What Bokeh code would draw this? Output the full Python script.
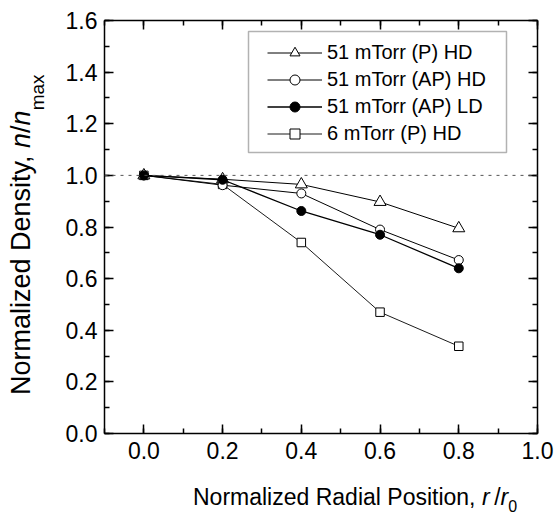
from bokeh.plotting import figure
from bokeh.layouts import row, column
from bokeh.models import (LinearAxis, SingleIntervalTicker, PrintfTickFormatter,
                          CustomJSTickFormatter, Legend, LegendItem, Span,
                          BoxAnnotation, Range1d, Div)
from bokeh.embed import file_html
from bokeh.resources import INLINE

# Radial positions r/r0 and normalized densities n/n_max
r_pos = [0.0, 0.2, 0.4, 0.6, 0.8]
p51_hd = [1.0, 0.985, 0.965, 0.897, 0.795]
ap51_hd = [1.0, 0.962, 0.930, 0.790, 0.672]
ap51_ld = [1.0, 0.983, 0.862, 0.770, 0.640]
p6_hd = [1.0, 0.965, 0.740, 0.470, 0.338]

series_labels = ["51 mTorr (P) HD", "51 mTorr (AP) HD",
                 "51 mTorr (AP) LD", "6 mTorr (P) HD"]

FONT = "Liberation Sans"
W, H = 555, 515
YLAB_W = 50          # strip holding the rotated y title
XLAB_H = 40          # strip holding the x title
L, R, T, B = 104, 537, 20, 433   # frame edges on the page
X0, X1, Y0, Y1 = -0.1, 1.0, 0.0, 1.6

PW, PH = W - YLAB_W, H - XLAB_H


def px_x(px):
    return X0 + (px - L) * (X1 - X0) / (R - L)


def px_y(py):
    return Y0 + (B - py) * (Y1 - Y0) / (B - T)


p = figure(width=PW, height=PH, x_range=Range1d(X0, X1), y_range=Range1d(Y0, Y1),
           output_backend="svg", toolbar_location=None,
           x_axis_type=None, y_axis_type=None,
           min_border_left=L - YLAB_W, min_border_right=W - R,
           min_border_top=T, min_border_bottom=PH - B, margin=0)
p.outline_line_color = None
p.background_fill_color = "white"
p.border_fill_color = "white"


def make_axis(labelled):
    ax = LinearAxis(ticker=SingleIntervalTicker(interval=0.2, num_minor_ticks=2))
    ax.axis_line_width = 1.5
    ax.axis_line_color = "black"
    ax.major_tick_in = 9
    ax.major_tick_out = 0
    ax.minor_tick_in = 5
    ax.minor_tick_out = 0
    ax.major_tick_line_width = 1.5
    ax.minor_tick_line_width = 1.5
    ax.major_tick_line_color = "black"
    ax.minor_tick_line_color = "black"
    if labelled:
        ax.formatter = PrintfTickFormatter(format="%.1f")
        ax.major_label_text_font = FONT
        ax.major_label_text_font_size = "23px"
        ax.major_label_text_color = "black"
    else:
        ax.formatter = CustomJSTickFormatter(code="return ''")
        ax.major_label_standoff = 0
        ax.major_label_text_font_size = "1px"
    return ax


x_bottom = make_axis(True)
x_bottom.major_label_standoff = 8
y_left = make_axis(True)
y_left.major_label_standoff = 7
p.add_layout(x_bottom, "below")
p.add_layout(y_left, "left")
p.add_layout(make_axis(False), "above")
p.add_layout(make_axis(False), "right")

# dotted reference line at n/n_max = 1
p.add_layout(Span(location=1.0, dimension="width", line_color="#555555",
                  line_width=1, line_dash="3 5"))

styles = [
    (p6_hd, "square", 8.5, "white", 0.9),
    (ap51_hd, "circle", 9, "white", 1.0),
    (p51_hd, "triangle", 12, "white", 1.0),
    (ap51_ld, "circle", 9, "black", 1.3),
]
order_in_legend = [2, 1, 3, 0]

renderers = []
for vals, marker, size, fill, lw in styles:
    ln = p.line(r_pos, vals, line_color="black", line_width=lw)
    sc = p.scatter(r_pos, vals, marker=marker, size=size, fill_color=fill,
                   line_color="black", line_width=1)
    renderers.append([ln, sc])

items = [LegendItem(label=series_labels[k], renderers=renderers[i])
         for k, i in enumerate(order_in_legend)]
legend = Legend(items=items, location=(153, 277), glyph_width=55, glyph_height=25,
                label_height=25, spacing=2, padding=10, label_standoff=5,
                label_text_font=FONT, label_text_font_size="20px",
                label_text_color="black", border_line_alpha=0,
                background_fill_alpha=0, margin=0)
p.add_layout(legend)

p.add_layout(BoxAnnotation(left=px_x(248), right=px_x(506), top=px_y(31),
                           bottom=px_y(152), fill_color=None, line_color="black",
                           line_width=1.5))

# x title: Normalized Radial Position, r/r0
x_title = Div(
    width=PW, height=XLAB_H, margin=0,
    styles={"overflow": "hidden", "background-color": "white"},
    text=(
        "<div style=\"position:absolute; left:%dpx; top:11px; white-space:nowrap; "
        "font-family:'%s'; font-size:23px; line-height:23px; color:black;\">"
        "Normalized Radial Position, <i>r</i>&#8201;/<i>r</i>"
        "<span style=\"font-size:16px; vertical-align:-7px;\">0</span></div>"
    ) % (193 - YLAB_W, FONT),
)

# y title: Normalized Density, n/n_max, turned to read upward
y_title = Div(
    width=YLAB_W, height=H, margin=0,
    styles={"overflow": "hidden", "background-color": "white"},
    text=(
        "<div style=\"position:absolute; left:8px; top:395px; white-space:nowrap; "
        "transform-origin:0 0; transform:rotate(-90deg); "
        "font-family:'%s'; font-size:27px; line-height:27px; color:black;\">"
        "Normalized Density, <i>n</i>/<i>n</i>"
        "<span style=\"font-size:19px; vertical-align:-14px;\">max</span></div>"
    ) % FONT,
)

layout = row(y_title, column(p, x_title, spacing=0, margin=0), spacing=0, margin=0)

open("out.html", "w").write(file_html(layout, INLINE))
